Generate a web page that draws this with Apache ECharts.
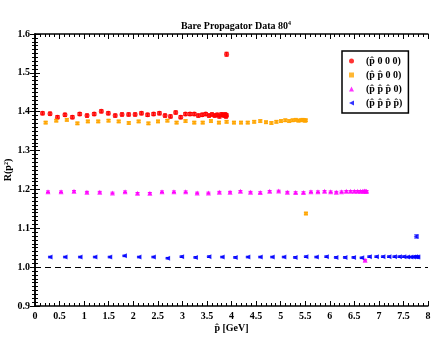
<!DOCTYPE html>
<html>
<head>
<meta charset="utf-8">
<script src="https://cdn.jsdelivr.net/npm/echarts@6/dist/echarts.min.js"></script>
<style>
  html, body { margin: 0; padding: 0; background: #fff; }
  #chart { width: 443px; height: 342px; }
</style>
</head>
<body>
<div id="chart"></div>
<script>
// p-hat values (GeV) and R(p^2), last point of each set is the odd one
var pA = [0.153, 0.306, 0.458, 0.610, 0.761, 0.910, 1.059, 1.205, 1.350, 1.492, 1.633, 1.771, 1.906, 2.038,
  2.167, 2.292, 2.414, 2.533, 2.647, 2.758, 2.864, 2.966, 3.063, 3.155, 3.243, 3.325, 3.403, 3.475, 3.542,
  3.603, 3.659, 3.709, 3.754, 3.792, 3.825, 3.852, 3.873, 3.888, 3.897, 3.900];
var rA = [1.396, 1.395, 1.386, 1.392, 1.386, 1.394, 1.390, 1.394, 1.401, 1.396, 1.390, 1.393, 1.393, 1.393,
  1.396, 1.392, 1.394, 1.396, 1.390, 1.388, 1.398, 1.386, 1.394, 1.394, 1.394, 1.390, 1.392, 1.394, 1.390,
  1.393, 1.390, 1.392, 1.388, 1.393, 1.392, 1.390, 1.393, 1.388, 1.391, 1.548];
var eA = [0.004, 0.004, 0.004, 0.004, 0.004, 0.004, 0.004, 0.004, 0.004, 0.004, 0.004, 0.004, 0.004, 0.004,
  0.004, 0.004, 0.004, 0.004, 0.004, 0.004, 0.004, 0.004, 0.004, 0.004, 0.004, 0.004, 0.004, 0.004, 0.004,
  0.004, 0.004, 0.004, 0.004, 0.004, 0.004, 0.004, 0.004, 0.004, 0.004, 0.005];

var pB = [0.217, 0.433, 0.648, 0.863, 1.076, 1.287, 1.497, 1.704, 1.909, 2.110, 2.309, 2.504, 2.695, 2.882,
  3.064, 3.242, 3.414, 3.582, 3.744, 3.900, 4.050, 4.194, 4.331, 4.462, 4.586, 4.702, 4.812, 4.914, 5.008,
  5.095, 5.174, 5.245, 5.308, 5.363, 5.409, 5.447, 5.477, 5.498, 5.511, 5.515];
var rB = [1.372, 1.377, 1.379, 1.370, 1.375, 1.375, 1.377, 1.375, 1.371, 1.375, 1.370, 1.375, 1.377, 1.372,
  1.376, 1.372, 1.372, 1.376, 1.372, 1.374, 1.372, 1.372, 1.372, 1.374, 1.376, 1.373, 1.371, 1.374, 1.376,
  1.378, 1.376, 1.378, 1.379, 1.377, 1.378, 1.379, 1.378, 1.377, 1.378, 1.138];
var eB = [0.003, 0.003, 0.003, 0.003, 0.003, 0.003, 0.003, 0.003, 0.003, 0.003, 0.003, 0.003, 0.003, 0.003,
  0.003, 0.003, 0.003, 0.003, 0.003, 0.003, 0.003, 0.003, 0.003, 0.003, 0.003, 0.003, 0.003, 0.003, 0.003,
  0.003, 0.003, 0.003, 0.003, 0.003, 0.003, 0.003, 0.003, 0.003, 0.003, 0.003];

var pC = [0.265, 0.530, 0.794, 1.057, 1.318, 1.577, 1.834, 2.087, 2.338, 2.585, 2.828, 3.067, 3.301, 3.530,
  3.753, 3.971, 4.182, 4.387, 4.585, 4.777, 4.960, 5.137, 5.305, 5.465, 5.617, 5.760, 5.894, 6.019, 6.134,
  6.241, 6.337, 6.424, 6.501, 6.568, 6.625, 6.672, 6.708, 6.734, 6.750, 6.720];
var rC = [1.194, 1.194, 1.195, 1.193, 1.193, 1.191, 1.194, 1.190, 1.190, 1.194, 1.194, 1.194, 1.191, 1.191,
  1.193, 1.193, 1.195, 1.193, 1.192, 1.195, 1.196, 1.193, 1.192, 1.192, 1.194, 1.194, 1.195, 1.194, 1.193,
  1.194, 1.195, 1.195, 1.195, 1.195, 1.195, 1.195, 1.196, 1.195, 1.195, 1.018];
var eC = [0.002, 0.002, 0.002, 0.002, 0.002, 0.002, 0.002, 0.002, 0.002, 0.002, 0.002, 0.002, 0.002, 0.002,
  0.002, 0.002, 0.002, 0.002, 0.002, 0.002, 0.002, 0.002, 0.002, 0.002, 0.002, 0.002, 0.002, 0.002, 0.002,
  0.002, 0.002, 0.002, 0.002, 0.002, 0.002, 0.002, 0.002, 0.002, 0.002, 0.002];

var pD = [0.306, 0.612, 0.917, 1.220, 1.522, 1.821, 2.117, 2.410, 2.700, 2.985, 3.266, 3.541, 3.811, 4.076,
  4.333, 4.585, 4.829, 5.066, 5.295, 5.515, 5.728, 5.931, 6.126, 6.310, 6.485, 6.651, 6.806, 6.950, 7.083,
  7.206, 7.318, 7.418, 7.507, 7.584, 7.650, 7.704, 7.746, 7.776, 7.794, 7.760];
var rD = [1.026, 1.026, 1.026, 1.026, 1.026, 1.029, 1.026, 1.026, 1.023, 1.027, 1.025, 1.027, 1.026, 1.025,
  1.026, 1.026, 1.026, 1.026, 1.025, 1.027, 1.026, 1.027, 1.025, 1.025, 1.025, 1.024, 1.027, 1.027, 1.027,
  1.027, 1.027, 1.027, 1.027, 1.026, 1.026, 1.026, 1.027, 1.026, 1.026, 1.079];
var eD = [0.002, 0.002, 0.002, 0.002, 0.002, 0.002, 0.002, 0.002, 0.002, 0.002, 0.002, 0.002, 0.002, 0.002,
  0.002, 0.002, 0.002, 0.002, 0.002, 0.002, 0.002, 0.002, 0.002, 0.002, 0.002, 0.002, 0.002, 0.002, 0.002,
  0.002, 0.002, 0.002, 0.002, 0.002, 0.002, 0.002, 0.002, 0.002, 0.002, 0.004];

var names = ["(p\u0302 0 0 0)", "(p\u0302 p\u0302 0 0)", "(p\u0302 p\u0302 p\u0302 0)", "(p\u0302 p\u0302 p\u0302 p\u0302)"];
var colors = ["#ff0000", "#ffa500", "#ff00ff", "#0000ff"];
var symbols = ["circle", "rect", "triangle", "path://M0,5 L10,0 L10,10 Z"];
var xTicks = ["0", "0.5", "1", "1.5", "2", "2.5", "3", "3.5", "4", "4.5", "5", "5.5", "6", "6.5", "7", "7.5", "8"];

var font = "Liberation Serif";
var sets = [[pA, rA, eA], [pB, rB, eB], [pC, rC, eC], [pD, rD, eD]];

function renderBar(params, api) {
  var a = api.coord([api.value(0), api.value(1)]);
  var b = api.coord([api.value(0), api.value(2)]);
  var st = { stroke: api.visual("color"), lineWidth: 1 };
  return {
    type: "group",
    children: [
      { type: "line", shape: { x1: a[0], y1: a[1], x2: b[0], y2: b[1] }, style: st },
      { type: "line", shape: { x1: a[0] - 2, y1: a[1], x2: a[0] + 2, y2: a[1] }, style: st },
      { type: "line", shape: { x1: b[0] - 2, y1: b[1], x2: b[0] + 2, y2: b[1] }, style: st }
    ]
  };
}

var series = [];
sets.forEach(function (s, k) {
  var sc = {
    name: names[k],
    type: "scatter",
    symbol: symbols[k],
    symbolSize: k === 1 ? 4 : 5,
    itemStyle: { color: colors[k] },
    data: s[0].map(function (x, i) { return [x, s[1][i]]; }),
    z: 3
  };
  if (k === 3) {
    sc.markLine = {
      silent: true,
      symbol: "none",
      label: { show: false },
      lineStyle: { color: "#000", type: [6, 4], width: 1.2 },
      data: [{ yAxis: 1.0 }]
    };
  }
  series.push(sc);
});
sets.forEach(function (s, k) {
  series.push({
    name: names[k],
    type: "custom",
    renderItem: renderBar,
    itemStyle: { color: colors[k] },
    encode: { x: 0, y: [1, 2] },
    data: s[0].map(function (x, i) { return [x, s[1][i] - s[2][i], s[1][i] + s[2][i]]; }),
    silent: true,
    z: 2
  });
});

var axisCommon = {
  axisLine: { show: true, lineStyle: { color: "#000", width: 1.5 } },
  axisTick: { show: true, inside: true, length: 5, lineStyle: { color: "#000", width: 1 } },
  minorTick: { show: true, length: 3, lineStyle: { color: "#000", width: 1 } },
  splitLine: { show: false }
};

function xAx(pos, labels) {
  return Object.assign({
    type: "value", position: pos, min: 0, max: 8, interval: 0.5,
    minorTick: Object.assign({}, axisCommon.minorTick, { splitNumber: 5 }),
    axisLabel: {
      show: labels, color: "#000", fontFamily: font, fontWeight: "bold", fontSize: 10, margin: 5,
      formatter: function (v) { return xTicks[Math.round(v * 2)]; }
    },
    name: labels ? "p\u0302 [GeV]" : "",
    nameLocation: "middle", nameGap: 17, nameMoveOverlap: false,
    nameTextStyle: { color: "#000", fontFamily: font, fontWeight: "bold", fontSize: 10 }
  }, { axisLine: axisCommon.axisLine, axisTick: axisCommon.axisTick, splitLine: axisCommon.splitLine });
}

function yAx(pos, labels) {
  return Object.assign({
    type: "value", position: pos, min: 0.9, max: 1.6, interval: 0.1,
    minorTick: Object.assign({}, axisCommon.minorTick, { splitNumber: 10 }),
    axisLabel: {
      show: labels, color: "#000", fontFamily: font, fontWeight: "bold", fontSize: 10, margin: 5,
      formatter: function (v) { return v.toFixed(1); }
    },
    name: labels ? "R(p\u00b2)" : "",
    nameLocation: "middle", nameGap: 22, nameRotate: 90, nameMoveOverlap: false,
    nameTextStyle: { color: "#000", fontFamily: font, fontWeight: "bold", fontSize: 10 }
  }, { axisLine: axisCommon.axisLine, axisTick: axisCommon.axisTick, splitLine: axisCommon.splitLine });
}

var chart = echarts.init(document.getElementById("chart"));
chart.setOption({
  animation: false,
  backgroundColor: "#fff",
  title: {
    text: "Bare Propagator Data 80{sup|4}",
    left: 231, top: 15, textAlign: "center",
    textStyle: {
      fontFamily: font, fontWeight: "bold", fontSize: 10, color: "#000",
      rich: { sup: { fontFamily: font, fontWeight: "bold", fontSize: 6, color: "#000", verticalAlign: "top", padding: [0, 0, 6, 0] } }
    }
  },
  legend: {
    data: names,
    orient: "vertical",
    left: 342, top: 51,
    padding: [5, 6, 5, 7],
    itemGap: 4,
    itemWidth: 5, itemHeight: 5,
    borderColor: "#000", borderWidth: 1.5, borderRadius: 0,
    backgroundColor: "#fff",
    selectedMode: false,
    textStyle: { fontFamily: font, fontWeight: "bold", fontSize: 10, color: "#000", lineHeight: 10, padding: [0, 0, 0, 7] }
  },
  grid: { left: 35, right: 15, top: 34, bottom: 36, outerBoundsMode: "none", containLabel: false },
  xAxis: [xAx("bottom", true), xAx("top", false)],
  yAxis: [yAx("left", true), yAx("right", false)],
  series: series
});
</script>
</body>
</html>
